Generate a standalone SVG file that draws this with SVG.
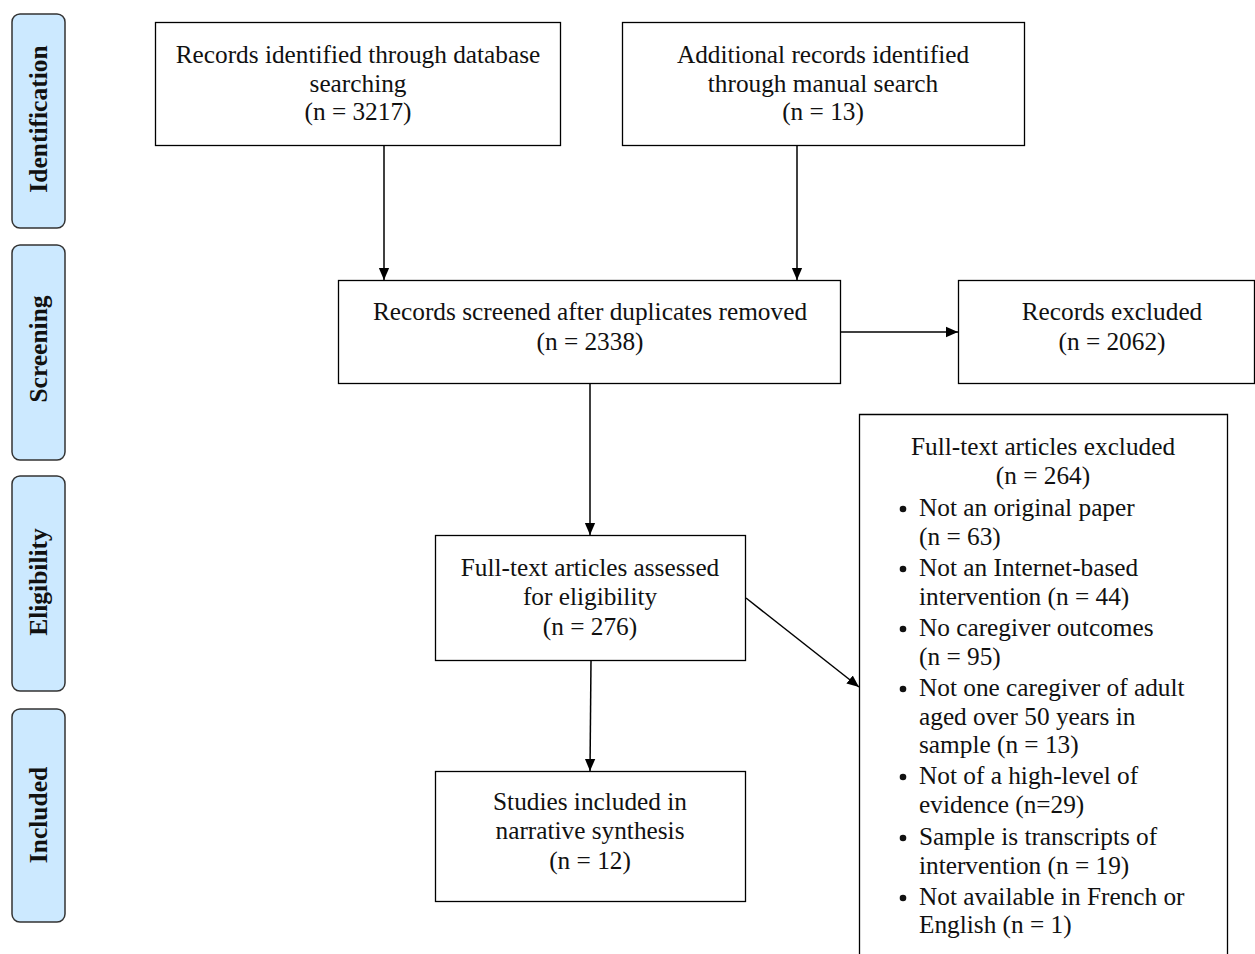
<svg xmlns="http://www.w3.org/2000/svg" width="1255" height="954" viewBox="0 0 1255 954">
<style>
.box{fill:#fff;stroke:#000;stroke-width:1.3}
.side{fill:#cce9ff;stroke:#333;stroke-width:1.5}
.txt{font-family:"Liberation Serif","Times New Roman",serif;font-size:25.3px;fill:#111}
.mid{text-anchor:middle}
.sidetxt{font-family:"Liberation Serif","Times New Roman",serif;font-size:25.5px;font-weight:bold;fill:#111;text-anchor:middle}
.ln{stroke:#000;stroke-width:1.5;fill:none}
</style>
<defs>
<marker id="ah" markerWidth="12" markerHeight="14" refX="14" refY="6" orient="auto" markerUnits="userSpaceOnUse" viewBox="0 0 14 12">
<path d="M0,0 L14,6 L0,12 z" fill="#000"/>
</marker>
</defs>
<rect width="1255" height="954" fill="#fff"/>
<g id="side-identification"><rect class="side" x="12" y="14" width="53" height="214" rx="8"/><text class="sidetxt" transform="translate(47,119) rotate(-90)">Identification</text></g>
<g id="side-screening"><rect class="side" x="12" y="245" width="53" height="215" rx="8"/><text class="sidetxt" transform="translate(47,349) rotate(-90)">Screening</text></g>
<g id="side-eligibility"><rect class="side" x="12" y="476" width="53" height="215" rx="8"/><text class="sidetxt" transform="translate(47,582) rotate(-90)">Eligibility</text></g>
<g id="side-included"><rect class="side" x="12" y="709" width="53" height="213" rx="8"/><text class="sidetxt" transform="translate(47,815) rotate(-90)">Included</text></g>

<g id="connectors">
<line class="ln" x1="384" y1="145" x2="384" y2="280" marker-end="url(#ah)"/>
<line class="ln" x1="797" y1="145" x2="797" y2="280" marker-end="url(#ah)"/>
<line class="ln" x1="840" y1="332" x2="958" y2="332" marker-end="url(#ah)"/>
<line class="ln" x1="590" y1="383" x2="590" y2="535" marker-end="url(#ah)"/>
<line class="ln" x1="591" y1="660" x2="590" y2="771" marker-end="url(#ah)"/>
<line class="ln" x1="746" y1="598" x2="859" y2="687" marker-end="url(#ah)"/>
</g>

<g id="n-database"><rect class="box" x="155.5" y="22.5" width="405" height="123"/>
<text class="txt mid" x="358" y="63">Records identified through database</text>
<text class="txt mid" x="358" y="92">searching</text>
<text class="txt mid" x="358" y="120">(n = 3217)</text></g>
<g id="n-manual"><rect class="box" x="622.5" y="22.5" width="402" height="123"/>
<text class="txt mid" x="823" y="63">Additional records identified</text>
<text class="txt mid" x="823" y="92">through manual search</text>
<text class="txt mid" x="823" y="120">(n = 13)</text></g>
<g id="n-screened"><rect class="box" x="338.5" y="280.5" width="502" height="103"/>
<text class="txt mid" x="590" y="320">Records screened after duplicates removed</text>
<text class="txt mid" x="590" y="350">(n = 2338)</text></g>
<g id="n-excluded"><rect class="box" x="958.5" y="280.5" width="296" height="103"/>
<text class="txt mid" x="1112" y="320">Records excluded</text>
<text class="txt mid" x="1112" y="350">(n = 2062)</text></g>
<g id="n-fulltext"><rect class="box" x="435.5" y="535.5" width="310" height="125"/>
<text class="txt mid" x="590" y="576">Full-text articles assessed</text>
<text class="txt mid" x="590" y="605">for eligibility</text>
<text class="txt mid" x="590" y="635">(n = 276)</text></g>
<g id="n-included"><rect class="box" x="435.5" y="771.5" width="310" height="130"/>
<text class="txt mid" x="590" y="810">Studies included in</text>
<text class="txt mid" x="590" y="839">narrative synthesis</text>
<text class="txt mid" x="590" y="869">(n = 12)</text></g>
<g id="n-ftexcluded"><path class="box" d="M859.5,960 V414.5 H1227.5 V960"/>
<text class="txt mid" x="1043" y="455">Full-text articles excluded</text>
<text class="txt mid" x="1043" y="484">(n = 264)</text>
<g fill="#111"><circle cx="903" cy="509" r="3.3"/><circle cx="903" cy="569" r="3.3"/><circle cx="903" cy="629" r="3.3"/><circle cx="903" cy="689" r="3.3"/><circle cx="903" cy="777" r="3.3"/><circle cx="903" cy="838" r="3.3"/><circle cx="903" cy="898" r="3.3"/></g>
<text class="txt" x="919" y="516">Not an original paper</text>
<text class="txt" x="919" y="545">(n = 63)</text>
<text class="txt" x="919" y="576">Not an Internet-based</text>
<text class="txt" x="919" y="605">intervention (n = 44)</text>
<text class="txt" x="919" y="636">No caregiver outcomes</text>
<text class="txt" x="919" y="665">(n = 95)</text>
<text class="txt" x="919" y="696">Not one caregiver of adult</text>
<text class="txt" x="919" y="725">aged over 50 years in</text>
<text class="txt" x="919" y="753">sample (n = 13)</text>
<text class="txt" x="919" y="784">Not of a high-level of</text>
<text class="txt" x="919" y="813">evidence (n=29)</text>
<text class="txt" x="919" y="845">Sample is transcripts of</text>
<text class="txt" x="919" y="874">intervention (n = 19)</text>
<text class="txt" x="919" y="905">Not available in French or</text>
<text class="txt" x="919" y="933">English (n = 1)</text>
</g>
</svg>
